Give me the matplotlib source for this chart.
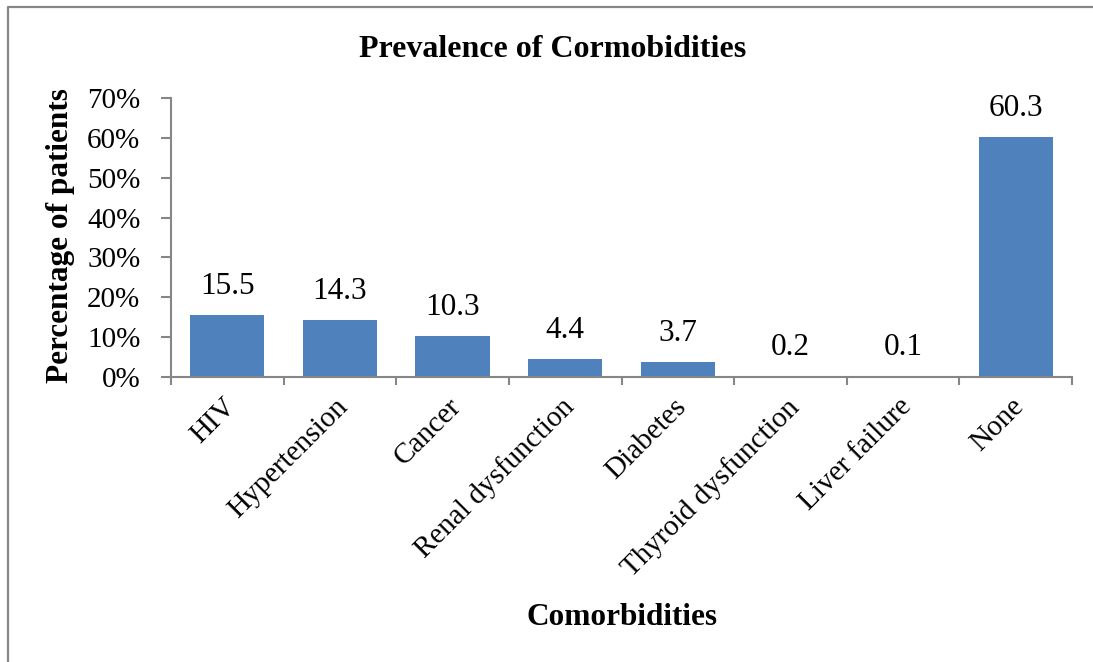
import matplotlib
matplotlib.use("Agg")
import matplotlib.pyplot as plt
import matplotlib.transforms as mtransforms
from matplotlib.lines import Line2D
import numpy as np

categories = ["HIV", "Hypertension", "Cancer", "Renal dysfunction", "Diabetes",
              "Thyroid dysfunction", "Liver failure", "None"]
prevalence = [15.5, 14.3, 10.3, 4.4, 3.7, 0.2, 0.1, 60.3]
y_ticks = [0, 10, 20, 30, 40, 50, 60, 70]
y_tick_labels = ["0%", "10%", "20%", "30%", "40%", "50%", "60%", "70%"]

plt.rcParams["font.family"] = ["Liberation Serif", "DejaVu Serif"]
bar_color = "#4F81BD"
axis_color = "#868686"

W, H = 1093, 662
fig = plt.figure(figsize=(W / 100, H / 100), dpi=100)
ax = fig.add_axes([171 / W, (H - 377) / H, (1072 - 171) / W, (377 - 98) / H])

x = np.arange(len(categories))
ax.bar(x, prevalence, width=0.66, color=bar_color, zorder=2)
for xi, v in zip(x, prevalence):
    ax.text(xi, v + 5.3, f"{v:.1f}", ha="center", va="baseline", fontsize=22.5)

ax.set_xlim(-0.5, len(categories) - 0.5)
ax.set_ylim(0, 70)
ax.set_yticks(y_ticks)
ax.set_yticklabels(y_tick_labels, fontsize=21)

# category names sit under the bars, tick marks sit between them
ax.set_xticks(x)
ax.set_xticklabels(categories, rotation=45, ha="right", va="top",
                   rotation_mode="anchor", fontsize=21)
ax.tick_params(axis="x", length=0, pad=12)
shift = mtransforms.ScaledTranslation(-5 / 100, 0, fig.dpi_scale_trans)
for lbl in ax.get_xticklabels():
    lbl.set_transform(lbl.get_transform() + shift)
ax.set_xticks(np.arange(-0.5, len(categories)), minor=True)
ax.tick_params(axis="x", which="minor", length=6, width=1.5, color=axis_color)
ax.tick_params(axis="y", length=7, width=1.5, color=axis_color, pad=15)

for side in ["top", "right"]:
    ax.spines[side].set_visible(False)
for side in ["left", "bottom"]:
    ax.spines[side].set_color(axis_color)
    ax.spines[side].set_linewidth(1.5)

fig.text(553 / W, 1 - 57 / H, "Prevalence of Cormobidities", ha="center",
         va="baseline", fontsize=23, fontweight="bold")
fig.text(622 / W, 1 - 625 / H, "Comorbidities", ha="center", va="baseline",
         fontsize=22.5, fontweight="bold")
fig.text(68 / W, 1 - 236 / H, "Percentage of patients", ha="center",
         va="baseline", rotation=90, rotation_mode="anchor", fontsize=22.5,
         fontweight="bold")

# chart frame along the top and left edges
fig.add_artist(Line2D([7.5 / W, 7.5 / W, 1.0], [0.0, 1 - 6.5 / H, 1 - 6.5 / H],
                      transform=fig.transFigure, color=axis_color, linewidth=1.6))

fig.savefig("out.png", dpi=100)
